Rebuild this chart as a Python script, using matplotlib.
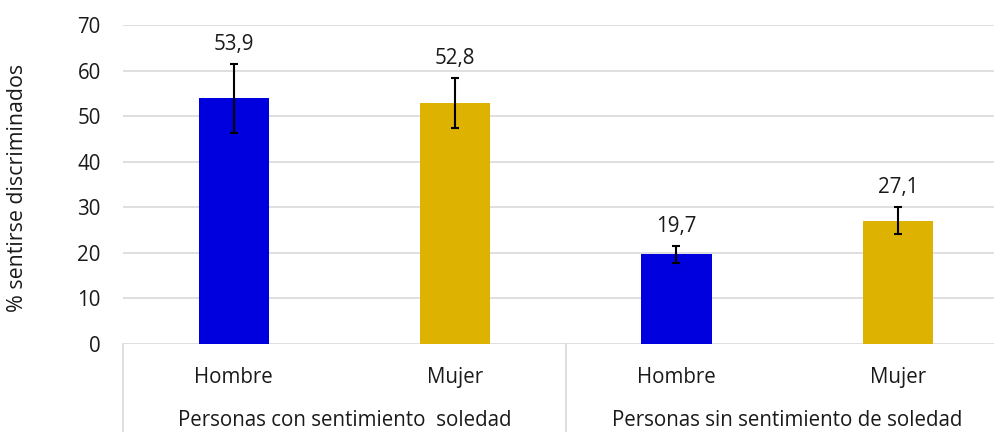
import numpy as np
import matplotlib
matplotlib.use("Agg")
import matplotlib.pyplot as plt
import matplotlib.transforms as mtransforms

# Data
groups = ["Personas con sentimiento  soledad", "Personas sin sentimiento de soledad"]
sexes = ["Hombre", "Mujer", "Hombre", "Mujer"]
values = [53.9, 52.8, 19.7, 27.1]
errors = [7.6, 5.5, 1.9, 3.0]
labels = ["53,9", "52,8", "19,7", "27,1"]
colors = ["#0000DE", "#DEB200", "#0000DE", "#DEB200"]
yticks = [0, 10, 20, 30, 40, 50, 60, 70]

plt.rcParams['font.family'] = ['Open Sans', 'DejaVu Sans']
FS = 14.8
TXT = '#1a1a1a'

W, H = 995, 432
fig = plt.figure(figsize=(W / 100, H / 100), dpi=100)
# axis runs past the right edge, as in the reference
left, right, bottom, top = 123, 1008.5, 344, 25
ax = fig.add_axes([left / W, (H - bottom) / H, (right - left) / W, (bottom - top) / H])

x = np.arange(len(values))
ax.bar(x, values, width=0.317, color=colors, zorder=3)
ax.errorbar(x, values, yerr=errors, fmt='none', ecolor='black',
            elinewidth=1.5, capsize=3, capthick=1.5, zorder=4)

for xi, v, e, lab in zip(x, values, errors, labels):
    ax.annotate(lab, (xi, v + e), xytext=(0, 10), textcoords='offset points',
                ha='center', va='baseline', fontsize=FS, color=TXT)

ax.set_xlim(-0.5, len(values) - 0.5)
ax.set_ylim(0, 70)
ax.set_yticks(yticks)
ax.set_yticklabels([str(t) for t in yticks], fontsize=FS, color=TXT)
ax.tick_params(axis='y', length=0, pad=16)
ax.set_xticks([])
ax.grid(axis='y', color='#d9d9d9', linewidth=1.2, zorder=0)
ax.set_axisbelow(True)
for s in ax.spines.values():
    s.set_visible(False)

# category labels
trans = mtransforms.blended_transform_factory(ax.transData, ax.transAxes)
for xi, lab in zip(x, sexes):
    ax.annotate(lab, (xi, 0), xycoords=trans, xytext=(0, -24), textcoords='offset points',
                ha='center', va='center', fontsize=FS, color=TXT)
for gi, g in enumerate(groups):
    ax.annotate(g, (gi * 2 + 0.5, 0), xycoords=trans, xytext=(0, -55), textcoords='offset points',
                ha='center', va='center', fontsize=FS, color=TXT)

# separators of the category axis
for xs in [-0.5, 1.5, 3.5]:
    ax.plot([xs, xs], [0, -0.4], transform=trans, color='#d9d9d9', linewidth=1.2, clip_on=False)

fig.text(18 / W, (H - 188) / H, "% sentirse discriminados",
         rotation=90, ha='center', va='center', fontsize=15.4, color=TXT)

fig.savefig("out.png", dpi=100)
